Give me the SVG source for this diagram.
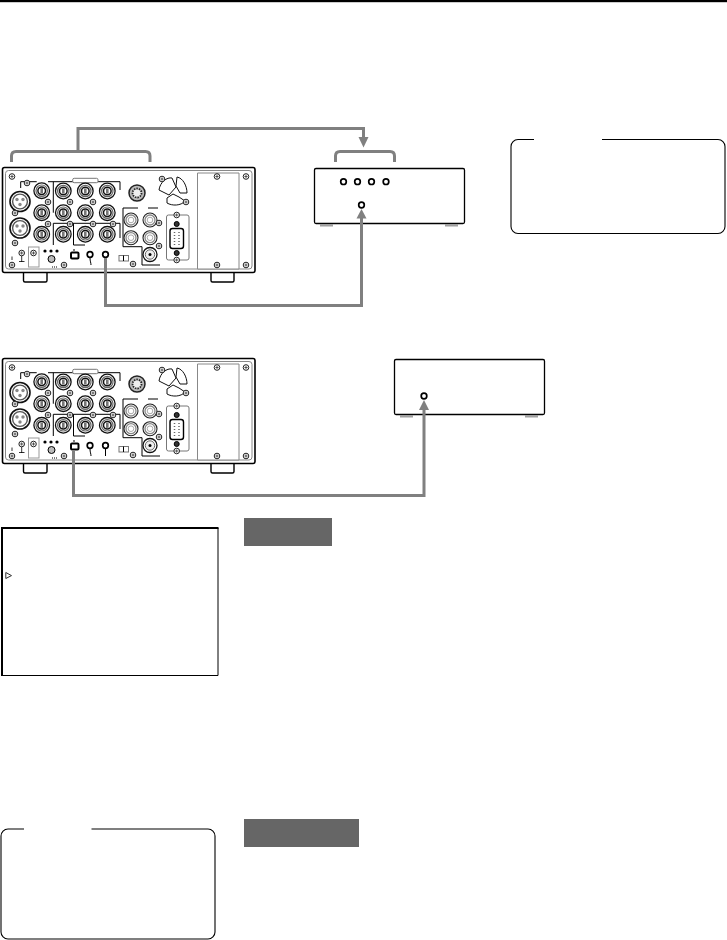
<svg xmlns="http://www.w3.org/2000/svg" width="727" height="940" viewBox="0 0 727 940">
<style>
.t{fill:none;stroke:#000;stroke-width:1.4}
.w{fill:#fff;stroke:#000;stroke-width:1.7}
.d{fill:#000}
.l{fill:none;stroke:#000;stroke-width:1}
.g{fill:none;stroke:#808080;stroke-width:3;stroke-linejoin:miter}
.ga{fill:#808080}
.ft{fill:#a0a0a0;stroke:none}
</style>
<defs>
<g id="bnc"><circle r="7.800" fill="#fff" stroke="#111" stroke-width="1.300"/><circle r="5.700" fill="none" stroke="#666" stroke-width="1.200"/><circle r="3.800" fill="#fff" stroke="#111" stroke-width="1.500"/><rect x="-1.300" y="-2.600" width="2.600" height="5.200" fill="#777"/></g>
<g id="rca"><circle r="7" fill="#fff" stroke="#222" stroke-width="1.100"/><circle r="5" fill="#fff" stroke="#888" stroke-width="1.300"/><circle r="2.800" fill="#fff" stroke="#aaa"/></g>
<g id="xlr"><circle r="10" fill="#fff" stroke="#111" stroke-width="1.600"/><circle r="7.400" fill="#fff" stroke="#555" stroke-width="1.400"/><circle cx="-3" cy="-2" r="1.700" fill="#888"/><circle cx="3" cy="-2" r="1.700" fill="#888"/><circle cy="3" r="1.700" fill="#888"/></g>
<g id="sc"><circle r="2.800" fill="#fff" stroke="#222" stroke-width="1"/><path d="M-1.600 0H1.600M0-1.600V1.600" stroke="#444" stroke-width=".9"/></g>
<g id="device">
<rect x="2.500" y="167.500" width="252.500" height="105" rx="2" fill="#fff" stroke="#000" stroke-width="1.600"/>
<rect x="5.500" y="170.500" width="246.500" height="98.500" rx="3" fill="none" stroke="#888" stroke-width="1"/>
<path d="M23.500 273V280.500Q23.500 282 25 282H45.500Q47 282 47 280.500V273M211 273V280.500Q211 282 212.500 282H232.500Q234 282 234 280.500V273" class="t"/>
<path d="M197.500 173H239V269H197.500Z" fill="#fff" stroke="#888"/>
<path class="l" d="M20.700 188V181.700H36.700M48 181.700H120V190M53.300 181.700V212.700M53.300 245V223.300H120V238M73.500 223.300V245H85M123 208H138M148 208H158M123 208V246.700H142V265H160"/>
<rect x="72.700" y="178.300" width="25.300" height="4.400" rx="1.500" fill="#fff" stroke="#777"/>
<use href="#bnc" x="41.700" y="190.700"/><use href="#bnc" x="41.700" y="212.700"/><use href="#bnc" x="41.700" y="234.300"/>
<use href="#bnc" x="63.300" y="191"/><use href="#bnc" x="85.300" y="191"/><use href="#bnc" x="107.300" y="191"/>
<use href="#bnc" x="63.300" y="212.700"/><use href="#bnc" x="85.300" y="212.700"/><use href="#bnc" x="107.300" y="212.700"/>
<use href="#bnc" x="63.300" y="234.300"/><use href="#bnc" x="85.300" y="234.300"/><use href="#bnc" x="107.300" y="234.300"/>
<use href="#xlr" x="20" y="201.500"/><use href="#xlr" x="20" y="228"/>
<circle cx="137" cy="193" r="8" fill="#bbb" stroke="#222" stroke-width="1.500"/><circle cx="137" cy="193" r="4.500" fill="#eee" stroke="#222" stroke-width="1.800" stroke-dasharray="1.500 1"/>
<path d="M159 190C160 182 167 177 172 178L176 187L169 195ZM177 177C183 178 187 186 187 193L180 193L176 186ZM179 197L185 201C181 206 172 206 167 203L167 198L173 194Z" fill="#fff" stroke="#111" stroke-width="1"/>
<use href="#rca" x="131" y="220"/><use href="#rca" x="150" y="220"/><use href="#rca" x="131" y="237.700"/><use href="#rca" x="150" y="237.700"/>
<circle cx="150" cy="254.500" r="7" fill="#fff" stroke="#111" stroke-width="1.300"/><circle cx="150" cy="254.500" r="4.700" fill="#eee" stroke="#666"/><circle cx="150" cy="254.500" r="1.500" fill="#000"/>
<rect x="166.500" y="215" width="22.500" height="45" rx="2" fill="#fff" stroke="#777"/>
<rect x="170" y="228.500" width="13.500" height="20" rx="2.500" fill="#fff" stroke="#000" stroke-width="1.400"/>
<path d="M174.500 232V245M179 232V245" stroke="#666" stroke-width="1.500" stroke-dasharray="1 2"/>
<circle cx="176.700" cy="224" r="2.500" fill="#333" stroke="#000"/><circle cx="176.700" cy="253" r="2.500" fill="#333" stroke="#000"/>
<use href="#sc" x="176.700" y="215"/><use href="#sc" x="176.700" y="260"/>
<use href="#sc" x="12" y="176.500"/><use href="#sc" x="12" y="265"/><use href="#sc" x="246" y="176.500"/><use href="#sc" x="246" y="265"/><use href="#sc" x="217" y="176.500"/><use href="#sc" x="217" y="265"/>
<use href="#sc" x="162" y="179"/><use href="#sc" x="186" y="202"/><use href="#sc" x="159" y="223"/><use href="#sc" x="159" y="246"/><use href="#sc" x="133" y="264"/>
<use href="#sc" x="27" y="183"/><use href="#sc" x="15" y="213"/><use href="#sc" x="48" y="202"/><use href="#sc" x="70" y="202"/><use href="#sc" x="93" y="202"/><use href="#sc" x="70" y="224"/><use href="#sc" x="93" y="224"/><use href="#sc" x="113" y="224"/><use href="#sc" x="48" y="224"/><use href="#sc" x="15" y="243"/>
<use href="#sc" x="21.700" y="253"/><rect x="28.500" y="247" width="10.500" height="20" fill="#fff" stroke="#999"/><use href="#sc" x="33.500" y="253"/>
<circle cx="45" cy="251" r="1.600" class="d"/><circle cx="51" cy="251" r="1.600" class="d"/><circle cx="57" cy="251" r="1.600" class="d"/>
<circle cx="51.500" cy="259" r="3.500" fill="#bbb" stroke="#000"/><path d="M52 267H57" stroke="#000" stroke-dasharray="1 1"/><use href="#sc" x="64" y="265"/>
<path d="M21.700 256V262M19 261.500H24.500M12 256.500V260" stroke="#000" stroke-width=".8"/>
<rect x="71" y="252.500" width="7.500" height="6" rx="1" fill="#fff" stroke="#000" stroke-width="2"/><path d="M74 249V251" stroke="#000"/>
<circle cx="90" cy="254.500" r="2.800" fill="#fff" stroke="#000" stroke-width="1.700"/><path d="M90 258C90 261 91 263 91 265" fill="none" stroke="#000"/>
<circle cx="105.500" cy="254.500" r="2.800" fill="#fff" stroke="#000" stroke-width="1.700"/><path d="M105.500 258V265" fill="none" stroke="#000"/>
<rect x="119" y="255.500" width="9.500" height="5.500" fill="#fff" stroke="#777"/><path d="M123.500 255.500V261" stroke="#000"/>
</g>
</defs>
<g id="header"><rect x="0" y="0" width="727" height="2.200" fill="#000"/></g>
<g id="device-top"><use href="#device"/></g>
<g id="device-bottom"><use href="#device" y="191"/></g>
<g id="box-top"><rect x="314.500" y="168.500" width="150" height="55" rx="1.500" fill="#fff" stroke="#000" stroke-width="1.300"/><rect x="320" y="224" width="13" height="2.500" class="ft"/><rect x="445" y="224" width="13" height="2.500" class="ft"/>
<circle cx="343.500" cy="181.700" r="2.800" class="w"/><circle cx="357.500" cy="181.700" r="2.800" class="w"/><circle cx="371.500" cy="181.700" r="2.800" class="w"/><circle cx="386" cy="181.700" r="2.800" class="w"/><circle cx="361.500" cy="205" r="2.800" class="w"/></g>
<g id="box-bottom"><rect x="394.500" y="359.500" width="150" height="55" rx="1.500" fill="#fff" stroke="#000" stroke-width="1.300"/><rect x="400" y="415" width="13" height="2.500" class="ft"/><rect x="525" y="415" width="13" height="2.500" class="ft"/><circle cx="424" cy="396" r="2.800" class="w"/></g>
<g id="connectors">
<path class="g" d="M11.500 162V156Q11.500 151.500 16 151.500H145.500Q150 151.500 150 156V162"/>
<path class="g" d="M335.500 162V156Q335.500 151.500 340 151.500H390Q394.500 151.500 394.500 156V162"/>
<path class="g" d="M78 151V128.500H363.500V138"/><polygon class="ga" points="358.500,137 368.500,137 363.500,147.500"/>
<path class="g" d="M105.500 258V305.500H361.500V218"/><polygon class="ga" points="356.500,218.500 366.500,218.500 361.500,209"/>
<path class="g" d="M73.500 450V495.500H424V410"/><polygon class="ga" points="419,410 429,410 424,400"/>
</g>
<g id="note-top"><rect x="511" y="139.500" width="214" height="94" rx="7" fill="#fff" stroke="#000" stroke-width="1.100"/><rect x="534" y="137" width="68" height="5" fill="#fff"/></g>
<g id="menu"><path d="M2 528H218V675.500H2Z" fill="#fff" stroke="#000" stroke-width="1"/><path d="M1 527H218.500V529H3V676H1Z" fill="#000"/><path d="M5.800 572.500L11.500 575.600L5.800 578.500Z" fill="none" stroke="#333" stroke-width="1"/></g>
<g id="label-1"><rect x="244" y="518" width="88" height="28" fill="#666"/></g>
<g id="note-bottom"><rect x="1" y="829" width="214" height="110" rx="7" fill="#fff" stroke="#000" stroke-width="1.100"/><rect x="24" y="826" width="67.500" height="5" fill="#fff"/></g>
<g id="label-2"><rect x="244" y="819" width="115" height="28" fill="#666"/></g>
</svg>
